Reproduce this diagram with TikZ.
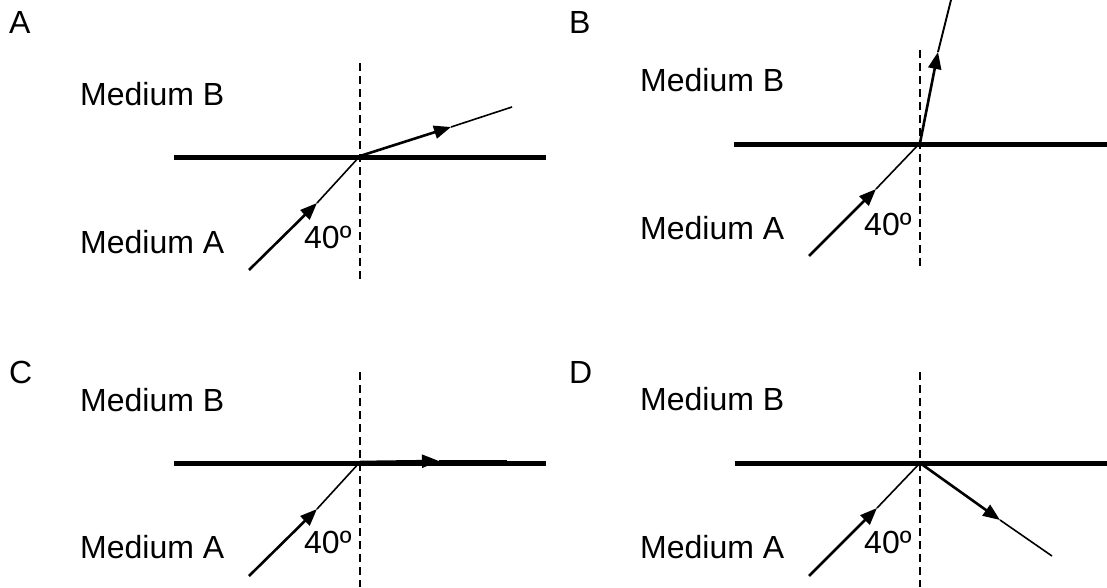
\documentclass[tikz,border=0pt]{standalone}
\usepackage{fontspec}
\setmainfont{Liberation Sans}
\usetikzlibrary{arrows.meta,calc}
\begin{document}
\begin{tikzpicture}[x=1pt,y=-1pt,
  lbl/.style={anchor=base west,inner sep=0pt,font=\fontsize{32}{38}\selectfont},
  iface/.style={line width=5pt},
  normal/.style={line width=1.8pt,dash pattern=on 8pt off 5pt},
  raythick/.style={line width=2.6pt,-{Triangle[length=17pt,width=13pt]}},
  raythin/.style={line width=1.6pt}]
\useasboundingbox (0,0) rectangle (1107,587);
% ---------- Panel A ----------
\node[lbl] (la) at (9,33) {A};
\node[lbl] (aB) at (80,105) {Medium B};
\node[lbl] (aA) at (80,253) {Medium A};
\node[lbl] (aang) at (304,248) {40º};
\coordinate (aL) at (174,157); \coordinate (aR) at (546,157);
\coordinate (aT) at (360,63); \coordinate (aBt) at (360,282);
\coordinate (aO) at (360,156);
\coordinate (aS) at (249,270); \coordinate (aI) at (317,203);
\coordinate (aRt) at (451,127); \coordinate (aE) at (512,107);
\draw[iface] (aL) -- (aR);
\draw[normal] (aT) -- (aBt);
\draw[raythick] (aS) -- (aI);
\draw[raythin] (aI) -- (aO);
\draw[raythick] (aO) -- (aRt);
\draw[raythin] (aRt) -- (aE);
% ---------- Panel B ----------
\node[lbl] (lb) at (569,33) {B};
\node[lbl] (bB) at (640,91) {Medium B};
\node[lbl] (bA) at (640,239) {Medium A};
\node[lbl] (bang) at (864,235) {40º};
\coordinate (bL) at (734,144); \coordinate (bR) at (1107,144);
\coordinate (bT) at (920,50); \coordinate (bBt) at (920,270);
\coordinate (bO) at (920,143);
\coordinate (bS) at (809,256); \coordinate (bI) at (876,189);
\coordinate (bRt) at (938,52); \coordinate (bE) at (951,0);
\draw[iface] (bL) -- (bR);
\draw[normal] (bT) -- (bBt);
\draw[raythick] (bS) -- (bI);
\draw[raythin] (bI) -- (bO);
\draw[raythick] (bO) -- (bRt);
\draw[line width=1.9pt] (bRt) -- (bE);
% ---------- Panel C ----------
\node[lbl] (lc) at (9,383) {C};
\node[lbl] (cB) at (80,411) {Medium B};
\node[lbl] (cA) at (80,558) {Medium A};
\node[lbl] (cang) at (304,553) {40º};
\coordinate (cL) at (174,463); \coordinate (cR) at (546,463);
\coordinate (cT) at (360,372); \coordinate (cBt) at (360,587);
\coordinate (cO) at (360,462);
\coordinate (cS) at (249,576); \coordinate (cI) at (317,509);
\coordinate (cRt) at (439,461); \coordinate (cE) at (507,461);
\draw[iface] (cL) -- (cR);
\draw[normal] (cT) -- (cBt);
\draw[raythick] (cS) -- (cI);
\draw[raythin] (cI) -- (cO);
\draw[raythick] (cO) -- (cRt);
\draw[line width=2.6pt] (cRt) -- (cE);
% ---------- Panel D ----------
\node[lbl] (ld) at (569,383) {D};
\node[lbl] (dB) at (640,410) {Medium B};
\node[lbl] (dA) at (640,558) {Medium A};
\node[lbl] (dang) at (864,553) {40º};
\coordinate (dL) at (735,463); \coordinate (dR) at (1107,463);
\coordinate (dT) at (920,372); \coordinate (dBt) at (920,587);
\coordinate (dO) at (920,463);
\coordinate (dS) at (809,576); \coordinate (dI) at (877,508);
\coordinate (dRt) at (1000,520); \coordinate (dE) at (1052,556);
\draw[iface] (dL) -- (dR);
\draw[normal] (dT) -- (dBt);
\draw[raythick] (dS) -- (dI);
\draw[raythin] (dI) -- (dO);
\draw[raythick] (dO) -- (dRt);
\draw[raythin] (dRt) -- (dE);
\end{tikzpicture}
\end{document}
